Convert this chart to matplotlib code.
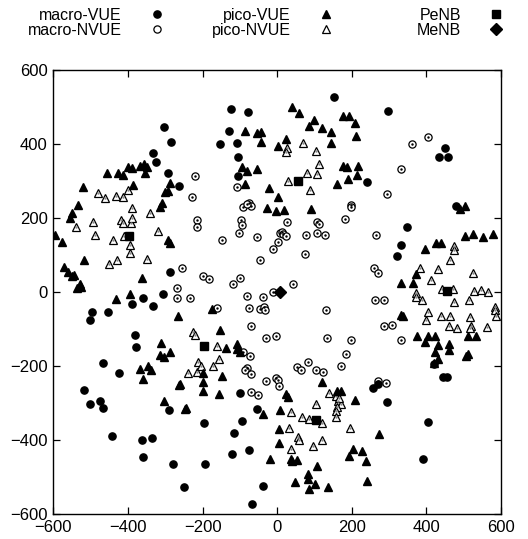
import matplotlib
matplotlib.use("Agg")
import matplotlib.pyplot as plt
import numpy as np

plt.rcParams['font.family'] = ['Liberation Sans', 'DejaVu Sans']

macro_vue = [(-303,447),(-285,405),(-332,377),(-325,353),(-293,321),(-263,288),
    (-125,495),(-78,486),(-128,435),(-152,400),(-107,404),(-106,364),(-106,314),(151,528),
    (297,490),(449,389),(433,364),(458,364),(242,299),(479,234),
    (-286,56),(-305,-5),(-359,-16),(-390,-31),(-332,-38),(-496,-53),(-453,-54),(-502,-74),
    (-381,-115),(-379,-148),(-466,-191),
    (349,176),(333,128),(321,97),
    (-424,-218),(-518,-265),(-502,-301),(-475,-293),(-468,-312),(-442,-389),(-362,-398),
    (-335,-393),(-359,-444),(-279,-463),(-250,-525),(-289,-317),(-196,-353),(-194,-463),
    (-100,-272),(-54,-314),(-93,-348),(-115,-380),(-76,-425),(-121,-436),(-39,-524),(-67,-571),
    (420,-194),(445,-229),(454,-229),(257,-258),(271,-249),(293,-297),(405,-351),(391,-450)]

macro_nvue = [(-219,315),(-229,258),
    (-107,285),(-91,231),(-75,242),(-69,233),(-80,238),(197,236),(199,230),
    (403,420),(362,400),(331,332),(293,266),
    (-216,196),(-216,176),(-256,65),(-198,43),(-269,11),(-269,-16),(-233,-16),
    (-98,196),(-95,182),(-103,160),(-147,140),(-54,150),(25,189),(7,160),(12,164),(16,158),
    (23,152),(3,135),(-12,116),(-45,88),(77,155),(106,191),(112,185),(106,161),(128,155),
    (183,197),(74,104),(-183,36),(-100,38),(-118,23),(43,23),(-11,2),(-82,-9),(-38,-13),
    (-75,-43),(-46,-45),(-35,-40),(-33,-47),(-162,-43),(130,-47),(-69,-90),(-30,-124),
    (-3,-117),(134,-124),(199,-128),(184,-166),(-91,-160),(-73,-171),(83,-187),
    (266,155),(259,65),(269,53),(262,-22),(287,-22),(287,-90),(308,-88),(331,-128),
    (-82,-204),(-86,-210),(-70,-220),(-30,-239),(-3,-231),(3,-237),(5,-252),(-70,-268),
    (-51,-278),(54,-202),(63,-209),(103,-211),(122,-216),(171,-200),
    (271,-240),(291,-245)]

pico_vue = [(-456,321),(-427,321),(-414,317),(-401,338),(-390,335),(-369,341),(-356,347),
    (-350,338),(-354,321),(-521,284),(-387,291),(-286,296),(-301,272),(-292,274),(-310,242),
    (-314,229),(-534,236),(-551,214),
    (40,501),(58,483),(99,464),(86,449),(119,443),(143,434),(143,404),(177,476),(193,476),
    (208,456),(211,422),(-85,436),(-54,429),(-44,434),(-44,407),(23,413),(3,395),(-94,339),
    (-82,328),(-55,333),(-86,293),(-22,282),(1,258),(-28,228),(-3,220),(18,221),(90,225),
    (177,341),(186,337),(217,341),(215,317),(190,305),(161,293),
    (503,234),(489,224),
    (-555,200),(-596,155),(-576,137),(-517,88),(-571,68),(-560,56),(-549,43),(-544,47),
    (-528,23),(-537,11),(-526,14),(-363,38),(-432,-18),(-395,-5),(-292,142),(-286,133),
    (-266,-65),(-312,-137),(-314,-169),(-303,-175),(-287,-160),
    (-176,-45),(-152,-103),(-107,-139),(-136,-151),(-109,-153),(-100,-160),
    (503,152),(525,158),(552,149),(579,158),(425,133),(438,133),(396,116),(371,50),(331,25),
    (364,26),(333,-61),(336,-63),(375,-119),(403,-117),(422,-119),(396,-135),(430,-142),
    (460,-139),(460,-155),(424,-162),(430,-180),(512,-117),(532,-119),(512,-166),(507,-171),
    (421,-191),
    (-368,-206),(-347,-200),(-339,-209),(-361,-234),(-261,-247),(-264,-250),(-303,-294),
    (-245,-312),(-248,-316),
    (-200,-218),(-200,-243),(-200,-267),(-149,-226),(-155,-276),(-39,-330),(7,-317),(23,-276),
    (29,-283),(5,-369),(5,-407),(-20,-449),(36,-449),(39,-456),(52,-454),(106,-470),(83,-492),
    (83,-504),(101,-517),(86,-531),(47,-513),(135,-525),(119,-243),(159,-266),(170,-266),
    (208,-290),(204,-423),(193,-443),
    (272,-384),(228,-429),(238,-456),(241,-510)]

pico_nvue = [(-481,267),(-462,255),(-433,260),(-413,258),(-401,276),(-388,227),(-342,215),
    (27,390),(23,378),(70,404),(103,382),(113,346),(80,323),(106,320),(29,301),(88,275),
    (-540,176),(-495,191),(-488,155),(-419,196),(-414,188),(-392,188),(-388,200),(-319,166),
    (-441,140),(-411,152),(-395,128),(-395,106),(-450,77),(-430,86),(-348,90),(-227,-108),
    (-220,-115),(-213,-189),
    (-162,-146),(-155,-180),
    (473,125),(474,113),(464,88),(382,65),(430,63),(525,53),(412,34),(442,9),(471,9),(372,-2),
    (372,-13),(389,-20),(474,-25),(514,-20),(528,4),(546,7),(565,2),(583,-40),(583,-47),
    (586,-65),(403,-54),(398,-74),(439,-65),(463,-63),(516,-67),(461,-90),(482,-97),(519,-90),
    (516,-97),(561,-94),
    (-238,-218),(-216,-214),(-203,-200),(-171,-198),
    (139,-272),(103,-302),(36,-324),(67,-338),(86,-341),(119,-353),(32,-366),(56,-390),
    (59,-400),(119,-400),(36,-422),(96,-416),(195,-366),(157,-279),(163,-294),(172,-303),
    (160,-310),(157,-321),(157,-337),(166,-285)]

penb = [(-397,152),(55,301),(-197,-146),(105,-345),(456,3)]
menb = [(7,2)]

ticks = [-600,-400,-200,0,200,400,600]

fig = plt.figure(figsize=(5.28,5.39), dpi=100)
ax = fig.add_axes([0.101, 0.0455, 0.848, 0.8245])

def xy(pts):
    a = np.array(pts, dtype=float)
    return a[:,0], a[:,1]

ms = 5.2
x,y = xy(macro_nvue)
h_mn, = ax.plot(x,y,'o',ms=ms,mfc='white',mec='black',mew=0.9,ls='none')
ax.plot(x,y,'.',ms=1.5,color='black',ls='none')
x,y = xy(pico_nvue)
h_pn, = ax.plot(x,y,'^',ms=ms,mfc='white',mec='black',mew=0.9,ls='none')
ax.plot(x,y,'.',ms=1.5,color='#888888',ls='none')
x,y = xy(macro_vue)
h_mv, = ax.plot(x,y,'o',ms=ms,color='black',ls='none')
x,y = xy(pico_vue)
h_pv, = ax.plot(x,y,'^',ms=ms,color='black',ls='none')
x,y = xy(penb)
h_pe, = ax.plot(x,y,'s',ms=6.3,color='black',ls='none')
x,y = xy(menb)
h_me, = ax.plot(x,y,'D',ms=6.0,color='black',ls='none')

ax.set_xlim(-600,600)
ax.set_ylim(-600,600)
ax.set_xticks(ticks)
ax.set_yticks(ticks)
ax.tick_params(direction='in', length=5, width=0.9, top=True, right=True, labelsize=12, pad=4)
for s in ax.spines.values():
    s.set_linewidth(1.0)

common = dict(markerfirst=False, frameon=False, fontsize=11.5, handlelength=1.0,
              handletextpad=1.7, labelspacing=0.0, borderpad=0, borderaxespad=0,
              loc='upper right')
top = 1 - 8/539
l1 = ax.legend([h_mv,h_mn],['macro-VUE','macro-NVUE'], bbox_to_anchor=(165/528, top),
               bbox_transform=fig.transFigure, **common)
ax.add_artist(l1)
l2 = ax.legend([h_pv,h_pn],['pico-VUE','pico-NVUE'], bbox_to_anchor=(334/528, top),
               bbox_transform=fig.transFigure, **common)
ax.add_artist(l2)
l3 = ax.legend([h_pe,h_me],['PeNB','MeNB'], bbox_to_anchor=(504/528, top),
               bbox_transform=fig.transFigure, **common)

fig.savefig('out.png', dpi=100)
